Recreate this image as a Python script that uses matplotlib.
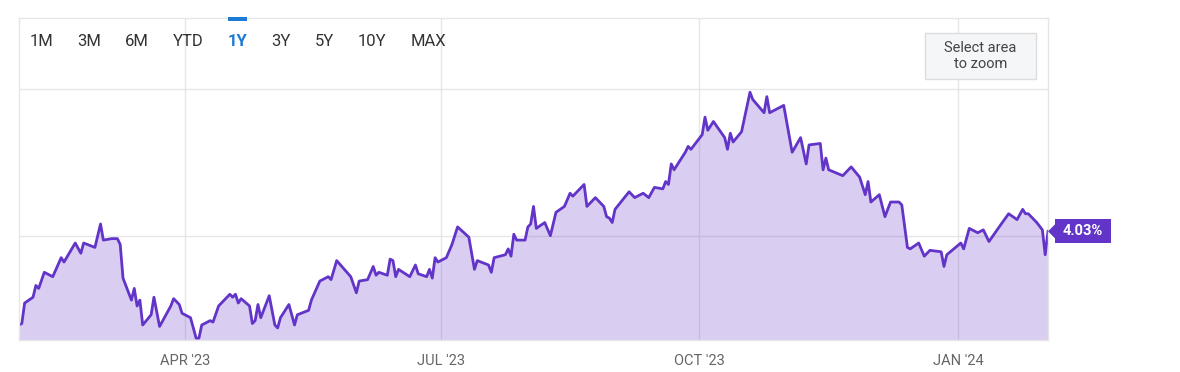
import numpy as np
import pandas as pd
from matplotlib import pyplot as plt
import matplotlib.dates as mdates
from matplotlib.patches import Rectangle, Polygon
from matplotlib.transforms import IdentityTransform

plt.rcParams['font.family'] = ['Roboto', 'DejaVu Sans']

# 10 year yield, daily closes (%)
dates = [
    '2023-02-01', '2023-02-02', '2023-02-03', '2023-02-06', '2023-02-07', '2023-02-08',
    '2023-02-10', '2023-02-13', '2023-02-16', '2023-02-17', '2023-02-21', '2023-02-23',
    '2023-02-24', '2023-02-28', '2023-03-02', '2023-03-03', '2023-03-06', '2023-03-08',
    '2023-03-09', '2023-03-10', '2023-03-13', '2023-03-14', '2023-03-15', '2023-03-16',
    '2023-03-17', '2023-03-20', '2023-03-21', '2023-03-23', '2023-03-27', '2023-03-28',
    '2023-03-30', '2023-03-31', '2023-04-03', '2023-04-05', '2023-04-06', '2023-04-07',
    '2023-04-10', '2023-04-11', '2023-04-13', '2023-04-17', '2023-04-18', '2023-04-19',
    '2023-04-20', '2023-04-21', '2023-04-24', '2023-04-25', '2023-04-26', '2023-04-27',
    '2023-04-28', '2023-05-01', '2023-05-03', '2023-05-04', '2023-05-05', '2023-05-08',
    '2023-05-10', '2023-05-11', '2023-05-15', '2023-05-16', '2023-05-19', '2023-05-22',
    '2023-05-23', '2023-05-25', '2023-05-30', '2023-06-01', '2023-06-02', '2023-06-05',
    '2023-06-07', '2023-06-08', '2023-06-09', '2023-06-12', '2023-06-13', '2023-06-14',
    '2023-06-15', '2023-06-16', '2023-06-20', '2023-06-22', '2023-06-23', '2023-06-26',
    '2023-06-27', '2023-06-28', '2023-06-29', '2023-06-30', '2023-07-03', '2023-07-05',
    '2023-07-07', '2023-07-11', '2023-07-13', '2023-07-14', '2023-07-18', '2023-07-19',
    '2023-07-20', '2023-07-24', '2023-07-25', '2023-07-26', '2023-07-27', '2023-07-28',
    '2023-07-31', '2023-08-01', '2023-08-02', '2023-08-03', '2023-08-04', '2023-08-07',
    '2023-08-09', '2023-08-11', '2023-08-14', '2023-08-16', '2023-08-17', '2023-08-21',
    '2023-08-22', '2023-08-25', '2023-08-28', '2023-08-29', '2023-08-30', '2023-08-31',
    '2023-09-01', '2023-09-06', '2023-09-08', '2023-09-11', '2023-09-13', '2023-09-15',
    '2023-09-18', '2023-09-19', '2023-09-20', '2023-09-21', '2023-09-22', '2023-09-25',
    '2023-09-26', '2023-09-27', '2023-09-28', '2023-10-02', '2023-10-03', '2023-10-04',
    '2023-10-06', '2023-10-10', '2023-10-11', '2023-10-12', '2023-10-13', '2023-10-16',
    '2023-10-19', '2023-10-20', '2023-10-24', '2023-10-25', '2023-10-26', '2023-10-31',
    '2023-11-03', '2023-11-06', '2023-11-08', '2023-11-09', '2023-11-13', '2023-11-14',
    '2023-11-15', '2023-11-16', '2023-11-21', '2023-11-24', '2023-11-27', '2023-11-29',
    '2023-11-30', '2023-12-01', '2023-12-04', '2023-12-06', '2023-12-08', '2023-12-11',
    '2023-12-12', '2023-12-14', '2023-12-15', '2023-12-18', '2023-12-20', '2023-12-22',
    '2023-12-26', '2023-12-27', '2023-12-28', '2024-01-02', '2024-01-03', '2024-01-05',
    '2024-01-08', '2024-01-10', '2024-01-12', '2024-01-16', '2024-01-19', '2024-01-22',
    '2024-01-24', '2024-01-25', '2024-01-26', '2024-01-29', '2024-01-31', '2024-02-01',
    '2024-02-02',
]
rates = [
    3.39, 3.40, 3.54, 3.58, 3.66, 3.64,
    3.75, 3.72, 3.85, 3.82, 3.95, 3.88,
    3.95, 3.92, 4.08, 3.97, 3.98, 3.98,
    3.94, 3.71, 3.56, 3.64, 3.52, 3.56,
    3.39, 3.46, 3.58, 3.38, 3.52, 3.57,
    3.53, 3.47, 3.44, 3.30, 3.30, 3.39,
    3.42, 3.41, 3.52, 3.60, 3.58, 3.60,
    3.54, 3.57, 3.52, 3.40, 3.42, 3.53,
    3.44, 3.59, 3.39, 3.37, 3.44, 3.53,
    3.39, 3.46, 3.49, 3.56, 3.69, 3.72,
    3.70, 3.83, 3.72, 3.61, 3.69, 3.70,
    3.79, 3.73, 3.75, 3.73, 3.84, 3.83,
    3.72, 3.77, 3.72, 3.80, 3.74, 3.72,
    3.77, 3.71, 3.85, 3.82, 3.85, 3.94,
    4.06, 3.99, 3.77, 3.83, 3.80, 3.75,
    3.85, 3.87, 3.91, 3.86, 4.01, 3.97,
    3.97, 4.06, 4.08, 4.20, 4.05, 4.09,
    4.00, 4.16, 4.20, 4.29, 4.27, 4.35,
    4.20, 4.26, 4.20, 4.13, 4.12, 4.09,
    4.18, 4.30, 4.26, 4.29, 4.26, 4.33,
    4.32, 4.37, 4.35, 4.49, 4.45, 4.54,
    4.57, 4.61, 4.59, 4.69, 4.81, 4.72,
    4.78, 4.67, 4.59, 4.70, 4.64, 4.71,
    4.98, 4.93, 4.84, 4.95, 4.84, 4.89,
    4.57, 4.67, 4.49, 4.62, 4.63, 4.45,
    4.53, 4.45, 4.41, 4.47, 4.40, 4.28,
    4.37, 4.23, 4.28, 4.13, 4.23, 4.23,
    4.21, 3.92, 3.91, 3.95, 3.86, 3.90,
    3.89, 3.79, 3.87, 3.95, 3.91, 4.05,
    4.02, 4.04, 3.96, 4.07, 4.15, 4.11,
    4.18, 4.15, 4.15, 4.09, 4.04, 3.87,
    4.03,
]
ranges = ['1M', '3M', '6M', 'YTD', '1Y', '3Y', '5Y', '10Y', 'MAX']
active_range = '1Y'
grid_levels = [4.0, 5.0]

# layout in pixels
W, H = 1180, 372
range_x = [41.7, 89.5, 137, 188, 237.5, 281, 324, 371.7, 428]
purple = '#6234c8'
blue = '#1f7ad6'

d = pd.to_datetime(dates)

fig = plt.figure(figsize=(W / 100, H / 100), dpi=100)
ax = fig.add_axes([19 / W, 1 - 340 / H, (1048 - 19) / W, (340 - 18) / H])

ymin, ymax = 3.2876, 5.487
ax.fill_between(d, rates, ymin, color=purple, alpha=0.24, lw=0)
ax.plot(d, rates, color=purple, lw=2.0, solid_joinstyle='round')

ax.set_xlim(d[0], d[-1])
ax.set_ylim(ymin, ymax)
ax.set_yticks(grid_levels)
ax.set_yticklabels([])
ax.xaxis.set_major_locator(mdates.MonthLocator(bymonth=[1, 4, 7, 10]))
ax.xaxis.set_major_formatter(plt.FuncFormatter(
    lambda x, pos: mdates.num2date(x).strftime("%b '%y").upper()))
ax.tick_params(length=0, labelsize=10.5, labelcolor='#666666', pad=10)
ax.grid(True, color='#e6e6e6', lw=1)
ax.set_axisbelow(True)
for s in ax.spines.values():
    s.set_color('#e6e6e6')
    s.set_linewidth(1)

# range selector buttons
for lab, x in zip(ranges, range_x):
    act = lab == active_range
    fig.text(x / W, 1 - 42 / H, lab, ha='center', va='center', fontsize=12,
             color=blue if act else '#333333', fontweight='bold' if act else 'normal')
fig.add_artist(Rectangle((228 / W, 1 - 21 / H), 19 / W, 4 / H, transform=fig.transFigure,
                         fc=blue, ec='none'))

# zoom hint box
fig.add_artist(Rectangle((925 / W, 1 - 79 / H), 111 / W, 46 / H, transform=fig.transFigure,
                         fc='#f5f6f7', ec='#dcdcdc', lw=1))
fig.text(980.5 / W, 1 - 56 / H, 'Select area\nto zoom', ha='center', va='center',
         fontsize=10.5, color='#444444', linespacing=1.25)

# last value label
fig.canvas.draw()
px, py = ax.transData.transform((mdates.date2num(d[-1]), rates[-1]))
fig.add_artist(Polygon([(px, py), (px + 8, py + 8), (px + 8, py - 8)], closed=True,
                       transform=IdentityTransform(), fc=purple, ec='none'))
fig.add_artist(Rectangle((px + 7, py - 12), 56, 24, transform=IdentityTransform(),
                         fc=purple, ec='none'))
fig.text((px + 35) / W, py / H, f'{rates[-1]:.2f}%', ha='center', va='center',
         fontsize=10.5, color='white', fontweight='bold')

plt.savefig('out.png', dpi=100)
